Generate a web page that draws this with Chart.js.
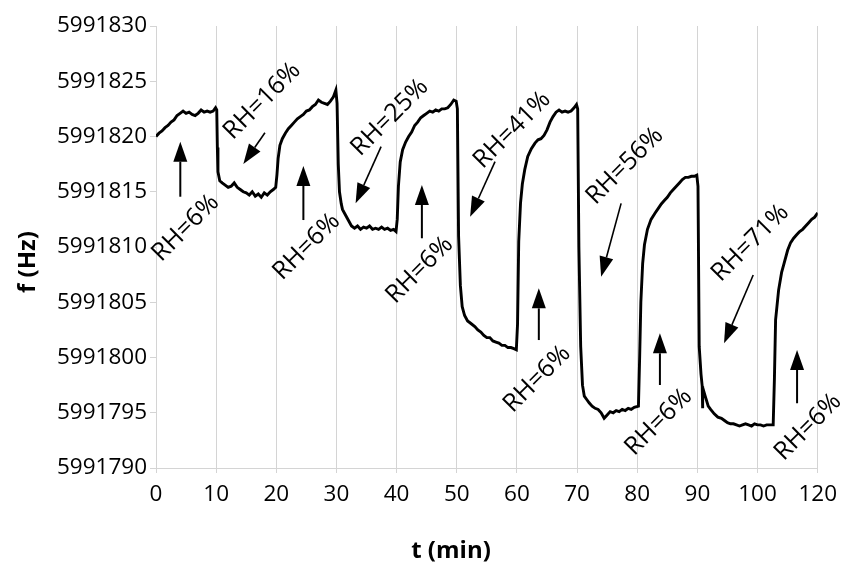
<!DOCTYPE html>
<html>
<head>
<meta charset="utf-8">
<script src="https://cdn.jsdelivr.net/npm/chart.js@4"></script>
<style>
  html, body { margin: 0; padding: 0; background: #fff; }
</style>
</head>
<body>
<canvas id="freqChart" width="845" height="564"></canvas>
<script>
// sensor frequency vs time, RH switched every ~10 min
const timeMin = [
  0.0, 0.5, 1.0, 1.5, 2.0, 2.5, 3.0, 3.5, 4.0, 4.5,
  5.0, 5.5, 6.0, 6.5, 7.0, 7.5, 8.0, 8.5, 9.0, 9.5,
  9.9, 10.1, 10.2, 10.3, 10.6, 11.0, 11.5, 12.0, 12.5, 13.0,
  13.5, 14.0, 14.5, 15.0, 15.5, 16.0, 16.5, 17.0, 17.5, 18.0,
  18.5, 19.0, 19.5, 19.9, 20.1, 20.3, 20.6, 21.0, 21.5, 22.0,
  22.5, 23.0, 23.5, 24.0, 24.5, 25.0, 25.5, 26.0, 26.5, 27.0,
  27.5, 28.0, 28.5, 29.0, 29.5, 29.9, 30.1, 30.3, 30.5, 30.8,
  31.0, 31.5, 32.0, 32.5, 33.0, 33.5, 34.0, 34.5, 35.0, 35.5,
  36.0, 36.5, 37.0, 37.5, 38.0, 38.5, 39.0, 39.5, 39.9, 40.1,
  40.3, 40.6, 41.0, 41.5, 42.0, 42.5, 43.0, 43.5, 44.0, 44.5,
  45.0, 45.5, 46.0, 46.5, 47.0, 47.5, 48.0, 48.5, 49.0, 49.5,
  49.9, 50.1, 50.3, 50.6, 50.9, 51.3, 51.8, 52.3, 53.0, 53.5,
  54.0, 54.5, 55.0, 55.5, 56.0, 56.5, 57.0, 57.5, 58.0, 58.5,
  59.0, 59.5, 59.9, 60.1, 60.3, 60.6, 60.9, 61.3, 61.8, 62.4,
  63.0, 63.5, 64.0, 64.5, 65.0, 65.5, 66.0, 66.5, 67.0, 67.5,
  68.0, 68.5, 69.0, 69.5, 69.9, 70.1, 70.3, 70.6, 70.9, 71.2,
  71.6, 72.0, 72.5, 73.0, 73.5, 74.0, 74.5, 75.0, 75.5, 76.0,
  76.5, 77.0, 77.5, 78.0, 78.5, 79.0, 79.5, 80.2, 80.4, 80.6,
  80.9, 81.2, 81.7, 82.3, 83.0, 83.5, 84.0, 84.5, 85.0, 85.5,
  86.0, 86.5, 87.0, 87.5, 88.0, 88.5, 89.0, 89.5, 89.9, 90.1,
  90.3, 90.6, 90.8, 90.85, 90.9, 91.3, 91.8, 92.2, 92.8, 93.4,
  94.0, 94.5, 95.0, 95.5, 96.0, 96.5, 97.0, 97.5, 98.0, 98.5,
  99.0, 99.5, 100.0, 100.5, 101.0, 101.5, 102.0, 102.6, 102.8, 103.0,
  103.5, 104.0, 104.4, 105.0, 105.5, 106.0, 106.5, 107.0, 107.5, 108.0,
  108.5, 109.0, 109.5, 110.0
];

const freqHz = [
  5991820.0, 5991820.3, 5991820.5, 5991820.8, 5991821.0, 5991821.3, 5991821.5, 5991821.9, 5991822.1, 5991822.3,
  5991822.1, 5991822.2, 5991822.0, 5991821.9, 5991822.1, 5991822.4, 5991822.2, 5991822.3, 5991822.2, 5991822.3,
  5991822.6, 5991822.4, 5991819.0, 5991816.8, 5991816.0, 5991815.8, 5991815.6, 5991815.4, 5991815.5, 5991815.8,
  5991815.4, 5991815.2, 5991815.0, 5991814.9, 5991814.7, 5991815.0, 5991814.6, 5991814.8, 5991814.5, 5991814.9,
  5991814.7, 5991815.0, 5991815.2, 5991815.4, 5991816.5, 5991818.0, 5991819.2, 5991819.8, 5991820.3, 5991820.7,
  5991821.0, 5991821.3, 5991821.6, 5991821.8, 5991822.0, 5991822.3, 5991822.4, 5991822.7, 5991822.9, 5991823.3,
  5991823.1, 5991823.0, 5991822.9, 5991823.2, 5991823.6, 5991824.2, 5991823.0, 5991817.5, 5991815.0, 5991813.9,
  5991813.4, 5991812.9, 5991812.4, 5991811.9, 5991811.7, 5991811.9, 5991811.6, 5991811.8, 5991811.7, 5991811.9,
  5991811.6, 5991811.7, 5991811.6, 5991811.8, 5991811.6, 5991811.7, 5991811.5, 5991811.6, 5991811.4, 5991812.5,
  5991815.5, 5991817.7, 5991818.8, 5991819.5, 5991820.0, 5991820.4, 5991821.0, 5991821.3, 5991821.7, 5991821.9,
  5991822.1, 5991822.3, 5991822.2, 5991822.4, 5991822.3, 5991822.5, 5991822.5, 5991822.6, 5991822.9, 5991823.3,
  5991823.2, 5991822.5, 5991811.0, 5991806.5, 5991804.6, 5991803.8, 5991803.3, 5991803.1, 5991802.8, 5991802.5,
  5991802.3, 5991802.0, 5991801.8, 5991801.8, 5991801.5, 5991801.4, 5991801.3, 5991801.1, 5991801.1, 5991800.9,
  5991800.9, 5991800.8, 5991800.7, 5991803.0, 5991810.5, 5991814.0, 5991815.7, 5991817.0, 5991818.2, 5991818.9,
  5991819.4, 5991819.7, 5991819.8, 5991820.1, 5991820.6, 5991821.3, 5991821.8, 5991822.2, 5991822.4, 5991822.2,
  5991822.3, 5991822.2, 5991822.3, 5991822.6, 5991822.9, 5991822.5, 5991810.0, 5991801.0, 5991797.5, 5991796.5,
  5991796.2, 5991795.9, 5991795.6, 5991795.4, 5991795.3, 5991795.0, 5991794.5, 5991794.8, 5991795.1, 5991795.0,
  5991795.2, 5991795.1, 5991795.3, 5991795.2, 5991795.4, 5991795.3, 5991795.5, 5991795.6, 5991800.0, 5991805.0,
  5991808.5, 5991810.2, 5991811.6, 5991812.5, 5991813.1, 5991813.5, 5991813.9, 5991814.2, 5991814.5, 5991814.9,
  5991815.2, 5991815.5, 5991815.8, 5991816.1, 5991816.3, 5991816.3, 5991816.4, 5991816.4, 5991816.5, 5991815.5,
  5991801.0, 5991798.5, 5991797.4, 5991795.4, 5991797.3, 5991796.5, 5991795.6, 5991795.3, 5991794.9, 5991794.6,
  5991794.5, 5991794.3, 5991794.1, 5991794.0, 5991794.0, 5991793.9, 5991793.8, 5991793.9, 5991794.0, 5991793.9,
  5991793.8, 5991794.0, 5991793.9, 5991793.9, 5991793.8, 5991793.9, 5991793.9, 5991793.9, 5991798.0, 5991803.4,
  5991806.1, 5991807.7, 5991808.5, 5991809.7, 5991810.4, 5991810.8, 5991811.1, 5991811.4, 5991811.6, 5991811.9,
  5991812.2, 5991812.5, 5991812.7, 5991813.1
];

// the last tick of the original axis reads 120 although it sits one step after 100
const xTickLabels = ["0", "10", "20", "30", "40", "50", "60", "70", "80", "90", "100", "120"];
const yMin = 5991790;
const yMax = 5991830;

// annotations, in axis units
const upArrows = [
  { t: 4.04, from: 5991814.55, to: 5991819.53 },
  { t: 24.5, from: 5991812.44, to: 5991817.33 },
  { t: 44.2, from: 5991810.79, to: 5991815.61 },
  { t: 63.64, from: 5991801.58, to: 5991806.26 },
  { t: 83.77, from: 5991797.51, to: 5991802.19 },
  { t: 106.57, from: 5991795.86, to: 5991800.68 }
];
const downArrows = [
  { t0: 18.11, f0: 5991820.34, t1: 14.52, f1: 5991817.51 },
  { t0: 37.42, f0: 5991819.08, t1: 33.18, f1: 5991813.95 },
  { t0: 56.36, f0: 5991817.72, t1: 52.22, f1: 5991812.74 },
  { t0: 77.32, f0: 5991813.95, t1: 74.0, f1: 5991807.31 },
  { t0: 99.28, f0: 5991807.47, t1: 94.43, f1: 5991801.29 }
];
const rhLabels = [
  { text: "RH=6%", t: 4.92, f: 5991811.72 },
  { text: "RH=16%", t: 17.66, f: 5991823.21 },
  { text: "RH=6%", t: 25.03, f: 5991810.03 },
  { text: "RH=25%", t: 38.86, f: 5991821.72 },
  { text: "RH=6%", t: 43.82, f: 5991807.92 },
  { text: "RH=41%", t: 59.22, f: 5991820.59 },
  { text: "RH=6%", t: 63.35, f: 5991798.05 },
  { text: "RH=56%", t: 77.93, f: 5991817.33 },
  { text: "RH=6%", t: 83.56, f: 5991794.16 },
  { text: "RH=71%", t: 98.79, f: 5991810.36 },
  { text: "RH=6%", t: 108.39, f: 5991793.71 }
];

const FONT = "'Open Sans', 'DejaVu Sans', sans-serif";
const GRID = "#d4d4d4";

function drawArrow(ctx, x1, y1, x2, y2, width) {
  const ang = Math.atan2(y2 - y1, x2 - x1);
  const headLen = 20, headHalf = 7;
  const bx = x2 - headLen * Math.cos(ang);
  const by = y2 - headLen * Math.sin(ang);
  ctx.lineWidth = width;
  ctx.beginPath();
  ctx.moveTo(x1, y1);
  ctx.lineTo(bx, by);
  ctx.stroke();
  ctx.beginPath();
  ctx.moveTo(x2, y2);
  ctx.lineTo(bx + headHalf * Math.sin(ang), by - headHalf * Math.cos(ang));
  ctx.lineTo(bx - headHalf * Math.sin(ang), by + headHalf * Math.cos(ang));
  ctx.closePath();
  ctx.fill();
}

const notesPlugin = {
  id: "rhNotes",
  afterDraw(chart) {
    const { ctx, scales: { x, y } } = chart;
    ctx.save();
    ctx.fillStyle = "#000";
    ctx.strokeStyle = "#000";

    upArrows.forEach(a => {
      const px = x.getPixelForValue(a.t);
      drawArrow(ctx, px, y.getPixelForValue(a.from), px, y.getPixelForValue(a.to), 2);
    });
    downArrows.forEach(a => {
      drawArrow(ctx, x.getPixelForValue(a.t0), y.getPixelForValue(a.f0),
        x.getPixelForValue(a.t1), y.getPixelForValue(a.f1), 1.6);
    });

    ctx.font = "25px " + FONT;
    ctx.textAlign = "center";
    ctx.textBaseline = "middle";
    rhLabels.forEach(l => {
      ctx.save();
      ctx.translate(x.getPixelForValue(l.t), y.getPixelForValue(l.f));
      ctx.rotate(-Math.PI / 4);
      ctx.fillText(l.text, 0, 0);
      ctx.restore();
    });

    // axis titles (placed off-centre like the original)
    ctx.font = "bold 24px " + FONT;
    ctx.fillText("t (min)", 451, 551);
    ctx.save();
    ctx.translate(28, 262);
    ctx.rotate(-Math.PI / 2);
    ctx.fillText("f (Hz)", 0, 0);
    ctx.restore();

    ctx.restore();
  }
};

new Chart(document.getElementById("freqChart"), {
  type: "line",
  data: {
    datasets: [{
      data: timeMin.map((t, i) => ({ x: t, y: freqHz[i] })),
      borderColor: "#000",
      borderWidth: 2.9,
      pointRadius: 0,
      tension: 0,
      fill: false
    }]
  },
  options: {
    responsive: false,
    animation: false,
    layout: { padding: { left: 0, top: 26, right: 24, bottom: 0 } },
    plugins: {
      legend: { display: false },
      tooltip: { enabled: false }
    },
    scales: {
      x: {
        type: "linear",
        min: 0,
        max: 110,
        afterFit(scale) { scale.height = 96; },
        ticks: {
          stepSize: 10,
          color: "#000",
          padding: 8,
          maxRotation: 0,
          font: { family: FONT, size: 22.5 },
          callback: (v, i) => xTickLabels[i]
        },
        grid: { color: GRID, lineWidth: 1, tickLength: 5 },
        border: { color: GRID }
      },
      y: {
        min: yMin,
        max: yMax,
        afterFit(scale) { scale.width = 156; },
        ticks: {
          stepSize: 5,
          color: "#000",
          padding: 3,
          font: { family: FONT, size: 22.5 },
          callback: v => String(v)
        },
        grid: { drawOnChartArea: false, color: GRID, tickLength: 6 },
        border: { color: GRID }
      }
    }
  },
  plugins: [notesPlugin]
});
</script>
</body>
</html>
